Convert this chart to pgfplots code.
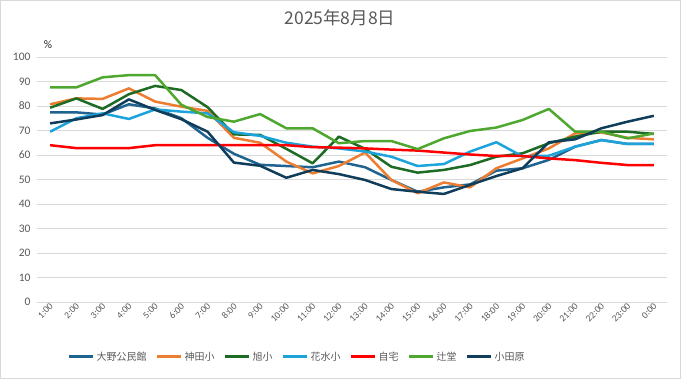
\documentclass[border=0pt]{standalone}
\usepackage{pgfplots}
\pgfplotsset{compat=1.18}
\usepackage{fontspec}
\setmainfont{Carlito}
\newfontfamily\cjk{Noto Sans CJK JP}
\definecolor{txt}{HTML}{595959}
\definecolor{gridc}{HTML}{D9D9D9}
\definecolor{cOno}{HTML}{1F6390}
\definecolor{cKanda}{HTML}{ED7D31}
\definecolor{cAsahi}{HTML}{1E6B24}
\definecolor{cHanami}{HTML}{1CA3DC}
\definecolor{cJitaku}{HTML}{FF0000}
\definecolor{cTsuji}{HTML}{4EA72E}
\definecolor{cOdawara}{HTML}{0F3D5A}
\begin{document}
\begin{tikzpicture}[x=1pt,y=1pt]
\draw[gridc, line width=0.8pt] (0.4,0.4) rectangle (680.6,378.6);
\node[text=txt, font=\cjk\fontsize{17.5}{20}\selectfont] at (340,361) {2025年8月8日};
\node[text=black!85, font=\fontsize{11.5}{13}\selectfont] at (48,334) {\%};
\begin{axis}[
  at={(37pt,77pt)}, anchor=south west,
  scale only axis, width=630pt, height=245pt,
  xmin=-0.5, xmax=23.5, ymin=0, ymax=100,
  ytick={0,10,...,100},
  xtick={0,...,23},
  xticklabels={1:00,2:00,3:00,4:00,5:00,6:00,7:00,8:00,9:00,10:00,11:00,12:00,13:00,14:00,15:00,16:00,17:00,18:00,19:00,20:00,21:00,22:00,23:00,0:00},
  xticklabel style={rotate=45, anchor=east, font=\fontsize{9.5}{10}\selectfont, text=txt, inner sep=1pt, yshift=-3pt},
  yticklabel style={font=\fontsize{11.5}{13}\selectfont, text=txt, xshift=-3pt},
  /pgf/number format/assume math mode=true,
  ymajorgrids, grid style={gridc, line width=0.8pt},
  axis line style={draw=none},
  major tick style={draw=none},
  clip=false,
  legend columns=7,
  legend style={draw=none, fill=none, at={(0.413,-0.2245)}, anchor=center,
    font=\cjk\fontsize{10}{12}\selectfont, text=txt,
    /tikz/every even column/.append style={column sep=7pt}},
  legend image code/.code={\draw[#1, line width=3pt] (0pt,0pt) -- (24pt,0pt);},
  every axis plot/.append style={line width=2.5pt, line join=round, no markers},
]
\addplot[cOno] coordinates {(0,77.4)(1,77.4)(2,76.5)(3,80.7)(4,79)(5,75)(6,67)(7,60.5)(8,56)(9,55.5)(10,55)(11,57.3)(12,55)(13,49.8)(14,45)(15,46.8)(16,48)(17,53.6)(18,54.6)(19,58)(20,63.4)(21,66.1)(22,64.5)(23,64.5)};
\addlegendentry{大野公民館}
\addplot[cKanda] coordinates {(0,80.7)(1,83.1)(2,82.9)(3,87.2)(4,81.8)(5,79.7)(6,78)(7,67)(8,65)(9,57.3)(10,52.5)(11,55.5)(12,61)(13,49.8)(14,44.4)(15,48.8)(16,46.8)(17,54.6)(18,58.6)(19,62.7)(20,68.8)(21,69.2)(22,67)(23,66.4)};
\addlegendentry{神田小}
\addplot[cAsahi] coordinates {(0,79.3)(1,83.1)(2,78.8)(3,84.8)(4,88.2)(5,86.5)(6,79.5)(7,68.4)(8,68.2)(9,62.5)(10,56.6)(11,67.5)(12,62.5)(13,55.2)(14,52.8)(15,53.9)(16,55.9)(17,59.3)(18,60.7)(19,64.8)(20,67.5)(21,69.5)(22,69.5)(23,68.6)};
\addlegendentry{旭小}
\addplot[cHanami] coordinates {(0,69.5)(1,75)(2,77)(3,74.7)(4,78.6)(5,77.7)(6,77)(7,69.3)(8,67.8)(9,65)(10,63.4)(11,62.7)(12,61.4)(13,59.3)(14,55.5)(15,56.3)(16,61.4)(17,65.2)(18,59.4)(19,59.7)(20,63.4)(21,66.1)(22,64.5)(23,64.5)};
\addlegendentry{花水小}
\addplot[cJitaku] coordinates {(0,64)(1,62.8)(2,62.8)(3,62.8)(4,64)(5,64)(6,64)(7,64)(8,64)(9,64)(10,63.2)(11,63)(12,62.7)(13,62.2)(14,61.8)(15,61)(16,60.2)(17,59.6)(18,59.6)(19,58.6)(20,57.9)(21,56.8)(22,55.9)(23,55.9)};
\addlegendentry{自宅}
\addplot[cTsuji] coordinates {(0,87.6)(1,87.6)(2,91.7)(3,92.6)(4,92.6)(5,80.5)(6,75.5)(7,73.6)(8,76.7)(9,70.9)(10,70.9)(11,64.8)(12,65.7)(13,65.7)(14,62.4)(15,66.8)(16,69.8)(17,71.2)(18,74.3)(19,78.8)(20,69.5)(21,69.5)(22,66.8)(23,68.8)};
\addlegendentry{辻堂}
\addplot[cOdawara] coordinates {(0,72.9)(1,74.5)(2,76.3)(3,82.7)(4,78.4)(5,74.6)(6,69.5)(7,56.9)(8,55.6)(9,50.7)(10,53.9)(11,52.2)(12,49.8)(13,46.1)(14,45)(15,44.1)(16,47.8)(17,51.4)(18,54.6)(19,65.2)(20,66.4)(21,70.9)(22,73.6)(23,76)};
\addlegendentry{小田原}
\end{axis}
\end{tikzpicture}
\end{document}
